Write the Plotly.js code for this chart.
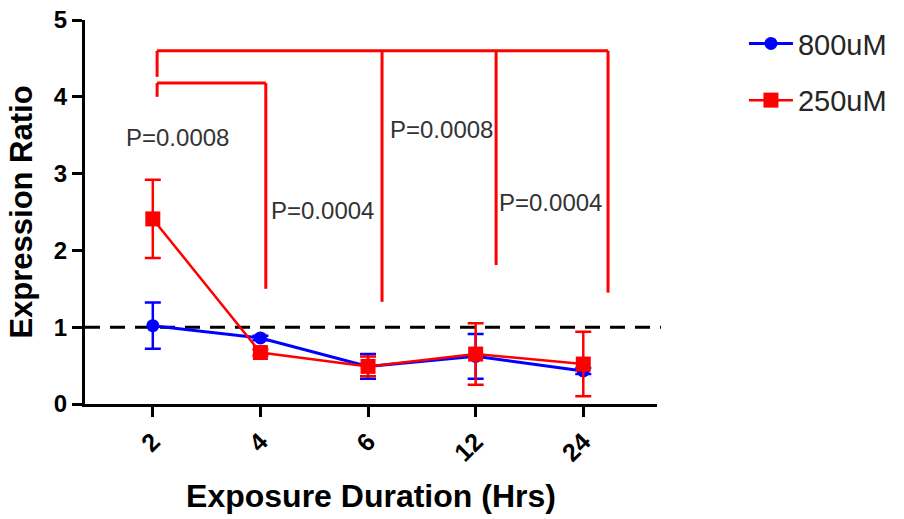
<!DOCTYPE html>
<html>
<head>
<meta charset="utf-8">
<script src="https://cdn.plot.ly/plotly-3.0.1.min.js"></script>
<style>html,body{margin:0;padding:0;background:#fff;}#chart{width:904px;height:519px;}</style>
</head>
<body>
<div id="chart"></div>
<script>
// ---- data ----
const categories = ['2', '4', '6', '12', '24'];
const conc800 = [1.02, 0.86, 0.49, 0.62, 0.43];
const conc800Err = [0.30, 0.03, 0.16, 0.29, 0.04];
const conc250 = [2.41, 0.67, 0.49, 0.65, 0.52];
const conc250Err = [0.51, 0.04, 0.13, 0.40, 0.42];
const seriesNames = ['800uM', '250uM'];
const refLine = 1;

// significance brackets (x in category index units, y in data units)
const bracketTopY = [4.60, 4.18];            // outer, inner
const outerLegX = [0.04, 2.13, 3.19, 4.23];
const outerLegBottom = [4.26, 1.33, 1.81, 1.45];
const innerLegX = [0.04, 1.05];
const innerLegBottom = [4.00, 1.50];
const pLabels = ['P=0.0008', 'P=0.0004', 'P=0.0008', 'P=0.0004'];
const pX = [0.23, 1.58, 2.68, 3.70];
const pY = [3.47, 2.52, 3.57, 2.62];

const FONT = 'Liberation Sans, Arial, sans-serif';
const RED = '#ff0000';
const BLUE = '#0000ff';

const traces = [
  {
    x: categories, y: conc800, name: seriesNames[0], type: 'scatter', mode: 'lines+markers',
    line: {color: BLUE, width: 3},
    marker: {symbol: 'circle', size: 13, color: BLUE},
    error_y: {type: 'data', array: conc800Err, visible: true, color: BLUE, thickness: 2.5, width: 8},
    legendgroup: 'a'
  },
  {
    x: categories, y: conc250, name: seriesNames[1], type: 'scatter', mode: 'lines+markers',
    line: {color: RED, width: 2.5},
    marker: {symbol: 'square', size: 15, color: RED},
    error_y: {type: 'data', array: conc250Err, visible: true, color: RED, thickness: 2.5, width: 8},
    legendgroup: 'b'
  }
];

const shapes = [];
const redLine = {color: RED, width: 3};
// reference dashed line
shapes.push({type: 'line', xref: 'paper', yref: 'y', x0: 0, x1: 1.007, y0: refLine, y1: refLine,
  line: {color: '#000', width: 3, dash: '15px,10px'}, layer: 'below'});
// outer bracket
shapes.push({type: 'line', xref: 'x', yref: 'y', x0: outerLegX[0], x1: outerLegX[outerLegX.length - 1],
  y0: bracketTopY[0], y1: bracketTopY[0], line: redLine});
outerLegX.forEach((lx, i) => {
  shapes.push({type: 'line', xref: 'x', yref: 'y', x0: lx, x1: lx, y0: bracketTopY[0], y1: outerLegBottom[i], line: redLine});
});
// inner bracket
shapes.push({type: 'line', xref: 'x', yref: 'y', x0: innerLegX[0], x1: innerLegX[1],
  y0: bracketTopY[1], y1: bracketTopY[1], line: redLine});
innerLegX.forEach((lx, i) => {
  shapes.push({type: 'line', xref: 'x', yref: 'y', x0: lx, x1: lx, y0: bracketTopY[1], y1: innerLegBottom[i], line: redLine});
});

const annotations = pLabels.map((t, i) => ({
  text: t, x: pX[i], y: pY[i], xref: 'x', yref: 'y', showarrow: false,
  font: {family: FONT, size: 24, color: '#333333'}
}));

const layout = {
  width: 904, height: 519,
  margin: {l: 85, r: 245, t: 20, b: 115},
  paper_bgcolor: '#fff', plot_bgcolor: '#fff',
  font: {family: FONT, color: '#000'},
  showlegend: true,
  legend: {
    x: 1.152, y: 1.005, xanchor: 'left', yanchor: 'top',
    font: {family: FONT, size: 29, color: '#262626'},
    itemwidth: 44, tracegroupgap: 16, bgcolor: 'rgba(0,0,0,0)'
  },
  xaxis: {
    type: 'category', categoryorder: 'array', categoryarray: categories,
    range: [-0.63, 4.685],
    showline: true, linecolor: '#000', linewidth: 3,
    ticks: 'outside', ticklen: 10, tickwidth: 3, tickcolor: '#000',
    tickangle: -45,
    tickfont: {family: FONT, size: 25, color: '#000', weight: 'bold'},
    showgrid: false, zeroline: false, automargin: false,
    title: {text: 'Exposure Duration (Hrs)', font: {family: FONT, size: 32, color: '#000', weight: 'bold'}, standoff: 20}
  },
  yaxis: {
    range: [0, 5],
    tickvals: [0, 1, 2, 3, 4, 5],
    showline: true, linecolor: '#000', linewidth: 3,
    ticks: 'outside', ticklen: 10, tickwidth: 3, tickcolor: '#000',
    tickfont: {family: FONT, size: 24, color: '#000', weight: 'bold'},
    showgrid: false, zeroline: false, automargin: false,
    title: {text: 'Expression Ratio', font: {family: FONT, size: 31, color: '#000', weight: 'bold'}, standoff: 12}
  },
  shapes: shapes,
  annotations: annotations
};

Plotly.newPlot('chart', traces, layout, {displayModeBar: false, staticPlot: true});
</script>
</body>
</html>
